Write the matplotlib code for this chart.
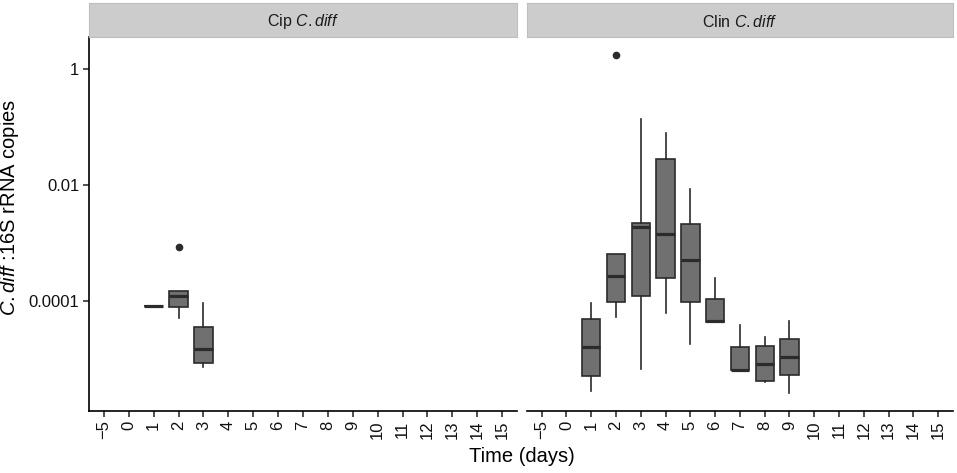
import matplotlib
matplotlib.use('Agg')
import matplotlib.pyplot as plt

plt.rcParams['font.family'] = ['Liberation Sans', 'DejaVu Sans']
plt.rcParams['mathtext.fontset'] = 'custom'
plt.rcParams['mathtext.rm'] = 'Liberation Sans'
plt.rcParams['mathtext.it'] = 'Liberation Sans:italic'

# x categories (days)
days = ['-5', '0', '1', '2', '3', '4', '5', '6', '7', '8', '9',
        '10', '11', '12', '13', '14', '15']

# log10 values
# Cip C.diff
cip_days = ['1', '2', '3']
cip_lo = [-4.086, -4.298, -5.133]
cip_q1 = [-4.086, -4.098, -5.063]
cip_med = [-4.086, -3.914, -4.822]
cip_q3 = [-4.086, -3.833, -4.454]
cip_hi = [-4.086, -3.833, -4.040]
cip_out = [[], [-3.064], []]

# Clin C.diff
clin_days = ['1', '2', '3', '4', '5', '6', '7', '8', '9']
clin_lo = [-5.552, -4.270, -5.167, -4.213, -4.741, -4.362, -5.195, -5.391, -5.581]
clin_q1 = [-5.288, -4.012, -3.914, -3.598, -4.023, -4.362, -5.195, -5.374, -5.281]
clin_med = [-4.799, -3.569, -2.730, -2.845, -3.293, -4.345, -5.184, -5.091, -4.966]
clin_q3 = [-4.316, -3.195, -2.661, -1.557, -2.678, -3.971, -4.793, -4.776, -4.655]
clin_hi = [-4.040, -3.195, -0.862, -1.098, -2.075, -3.598, -4.419, -4.626, -4.345]
clin_out = [[], [0.247], [], [], [], [], [], [], []]

panels = ['Cip', 'Clin']
yticks = [1, 0.01, 0.0001]
ytick_labels = ['1', '0.01', '0.0001']

fill = '#707070'
edge = '#2b2b2b'


def make_stats(lo, q1, med, q3, hi, out):
    stats = []
    for i in range(len(lo)):
        stats.append({
            'whislo': 10 ** lo[i], 'q1': 10 ** q1[i], 'med': 10 ** med[i],
            'q3': 10 ** q3[i], 'whishi': 10 ** hi[i],
            'fliers': [10 ** v for v in out[i]],
        })
    return stats


fig = plt.figure(figsize=(9.57, 4.73), dpi=100)
ax1 = fig.add_axes([0.0930, 0.1317, 0.4472, 0.790])
ax2 = fig.add_axes([0.5504, 0.1317, 0.4455, 0.790])

sets = [
    (ax1, cip_days, make_stats(cip_lo, cip_q1, cip_med, cip_q3, cip_hi, cip_out)),
    (ax2, clin_days, make_stats(clin_lo, clin_q1, clin_med, clin_q3, clin_hi, clin_out)),
]

for ax, dd, stats in sets:
    pos = [days.index(d) for d in dd]
    ax.bxp(stats, positions=pos, widths=0.74, patch_artist=True,
           showcaps=False,
           boxprops=dict(facecolor=fill, edgecolor=edge, linewidth=1.2),
           medianprops=dict(color=edge, linewidth=2.3),
           whiskerprops=dict(color=edge, linewidth=1.2),
           flierprops=dict(marker='o', markerfacecolor=edge,
                           markeredgecolor=edge, markersize=4.5))
    ax.set_yscale('log')
    ax.set_ylim(10 ** -5.891, 10 ** 0.552)
    ax.set_xlim(-0.6, len(days) - 0.4)
    ax.set_xticks(range(len(days)))
    ax.set_xticklabels([d.replace('-', '\u2212') for d in days], rotation=90,
                       fontsize=12, color='#111111')
    ax.minorticks_off()
    ax.spines['top'].set_visible(False)
    ax.spines['right'].set_visible(False)
    ax.tick_params(axis='x', length=4, width=1.1, pad=3, color='#222222')
    ax.spines['bottom'].set_linewidth(1.2)

ax1.set_yticks(yticks)
ax1.set_yticklabels(ytick_labels, fontsize=12, color='#111111')
ax1.tick_params(axis='y', length=4, width=1.1, pad=3, color='#222222')
ax1.spines['left'].set_linewidth(1.2)
ax1.set_ylabel(r'$\mathit{C.diff}$ :16S rRNA copies', fontsize=14.5)
ax1.yaxis.set_label_coords(-0.158, 0.545)

ax2.spines['left'].set_visible(False)
ax2.set_yticks([])

# facet strips
for ax, name in zip([ax1, ax2], panels):
    b = ax.get_position()
    strip = fig.add_axes([b.x0, 0.9218, b.width, 0.0719])
    strip.set_facecolor('#cccccc')
    for s in strip.spines.values():
        s.set_color('#bebebe')
    strip.set_xticks([])
    strip.set_yticks([])
    strip.text(0.5, 0.45, name + r' $\mathit{C.diff}$', ha='center', va='center',
               fontsize=11.5, color='#1a1a1a', transform=strip.transAxes)

fig.text(0.545, 0.034, 'Time (days)', ha='center', va='center', fontsize=14.5)

fig.savefig('out.png', dpi=100)
